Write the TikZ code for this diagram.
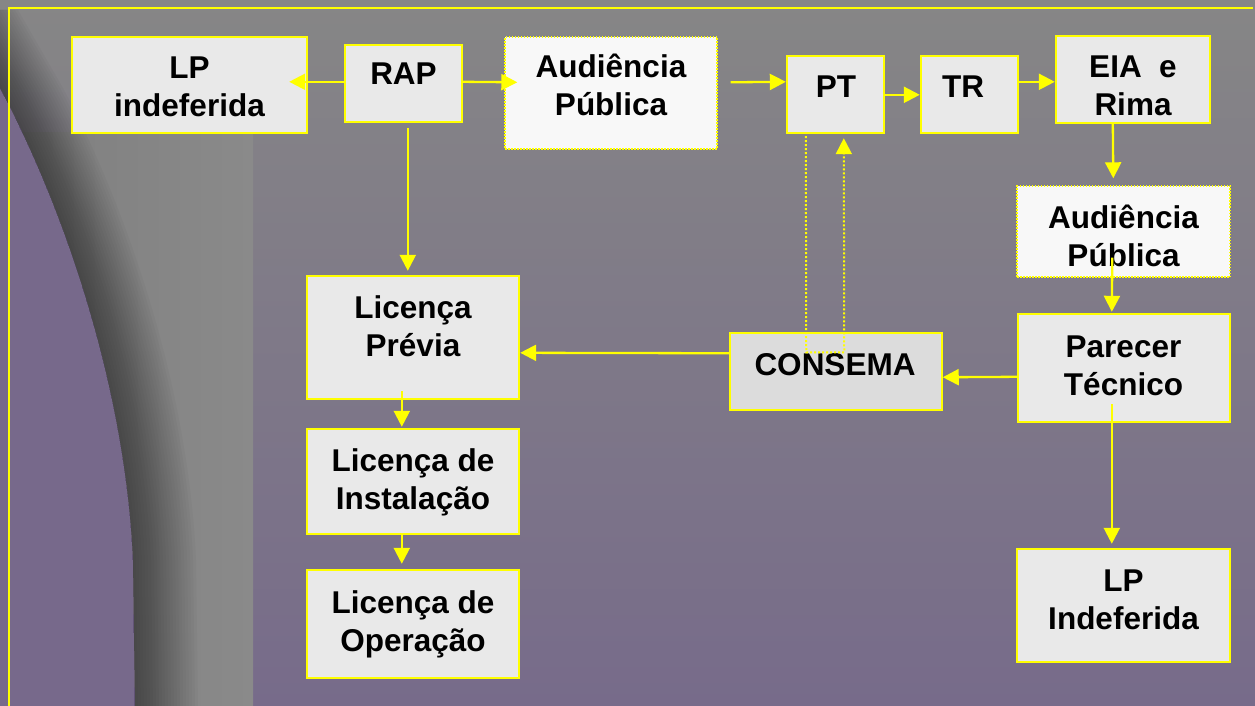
\documentclass[tikz,border=0pt]{standalone}
\usepackage{fontspec}
\setmainfont{Liberation Sans}
\usetikzlibrary{arrows.meta,calc}
\definecolor{yel}{HTML}{FFFF00}
\definecolor{boxfill}{HTML}{E9E9E9}
\definecolor{consfill}{HTML}{DCDCDC}
\definecolor{audfill}{HTML}{F8F8F8}
\definecolor{bgtop}{HTML}{868686}
\definecolor{bgbot}{HTML}{776B8A}
\definecolor{purp}{HTML}{77698B}
\definecolor{bandL}{HTML}{7E7E7E}
\definecolor{bandM}{HTML}{868686}
\definecolor{bandR}{HTML}{8A8A8A}
\newcommand\twol[2]{\begin{tabular}[t]{@{}c@{}}#1\\#2\end{tabular}}
\tikzset{
  box/.style={draw=yel, line width=2.4pt, fill=boxfill, inner sep=0pt, rectangle},
  cbox/.style={draw=yel, line width=1.5pt, fill=consfill, inner sep=0pt, rectangle},
  abox/.style={draw=yel, line width=1.4pt, dash pattern=on 1.5pt off 1.5pt, fill=audfill, inner sep=0pt, rectangle},
  txt/.style={anchor=base, inner sep=0pt, font=\fontsize{31.5}{38}\selectfont\bfseries},
  arr/.style={draw=yel, line width=2.3pt, -{Triangle[length=16pt,width=16pt]}},
  darr/.style={draw=yel, line width=2pt, dash pattern=on 2pt off 2pt, -{Triangle[length=16pt,width=16pt]}},
}
\begin{document}
\begin{tikzpicture}[x=1pt,y=-1pt]
\useasboundingbox (0,0) rectangle (1255,706);
% background
\fill[top color=bgtop, bottom color=bgbot] (0,0) rectangle (1255,706);
\fill[left color=bandL, middle color=bandM, right color=bandR] (0,133) rectangle (253,706);
\fill[purp] (0,88) .. controls (60,200) and (125,380) .. (133,560) -- (135,706) -- (0,706) -- cycle;
\foreach \s in {3,6,...,63} {
  \fill[black, opacity=0.022] (-45,10) -- (0,88) .. controls (60,200) and (125,380) .. (133,560) -- (135,706)
    -- (135+\s,706) -- (133+\s,560) .. controls (125+\s,380) and (60+\s,200) .. (\s,88) -- (-45+\s,10) -- cycle;
}
\draw[yel, line width=1.6pt] (1253,8) -- (9,8) -- (9,706);
% boxes
\node[box, minimum width=235pt, minimum height=96pt] (lpind) at (189.5,85) {};
\node[box, minimum width=117pt, minimum height=77pt] (rap) at (403.5,83.5) {};
\node[abox, minimum width=212pt, minimum height=112pt] (aud1) at (611,93) {};
\node[box, minimum width=97pt, minimum height=77pt] (pt) at (835.5,94.5) {};
\node[box, minimum width=97pt, minimum height=77pt] (tr) at (969.5,94.5) {};
\node[box, minimum width=154pt, minimum height=87pt] (eia) at (1133,79.5) {};
\node[abox, minimum width=213pt, minimum height=91pt] (aud2) at (1123.5,231.5) {};
\node[box, minimum width=212pt, minimum height=108pt] (parecer) at (1124,368) {};
\node[cbox, minimum width=212pt, minimum height=77pt] (consema) at (836,371.5) {};
\node[box, minimum width=212pt, minimum height=123pt] (lprev) at (413,337.5) {};
\node[box, minimum width=212pt, minimum height=105pt] (linst) at (413,481.5) {};
\node[box, minimum width=212pt, minimum height=108pt] (lop) at (413,624) {};
\node[box, minimum width=213pt, minimum height=113pt] (lpind2) at (1123.5,605.5) {};
% texts
\node[txt] (t-lpind) at (189.5,79) {\twol{LP}{indeferida}};
\node[txt] (t-rap) at (403.5,85) {RAP};
\node[txt] (t-aud1) at (611,78) {\twol{Audiência}{Pública}};
\node[txt] (t-pt) at (836,98) {PT};
\node[txt] (t-tr) at (963,98) {TR};
\node[txt] (t-eia) at (1133,78) {\twol{EIA\ \ e}{Rima}};
\node[txt] (t-aud2) at (1123.5,228) {\twol{Audiência}{Pública}};
\node[txt] (t-parecer) at (1123.5,357) {\twol{Parecer}{Técnico}};
\node[txt] (t-consema) at (835,375) {CONSEMA};
\node[txt] (t-lprev) at (413,318) {\twol{Licença}{Prévia}};
\node[txt] (t-linst) at (413,471) {\twol{Licença de}{Instalação}};
\node[txt] (t-lop) at (413,613) {\twol{Licença de}{Operação}};
\node[txt] (t-lpind2) at (1123.5,591) {\twol{LP}{Indeferida}};
% connectors
\draw[arr] ($(rap.north west)+(0,38)$) -- ($(lpind.north east)+(-19,46)$);
\draw[arr] ($(rap.north east)+(0,38)$) -- ($(aud1.north west)+(13,46)$);
\draw[arr] ($(aud1.north east)+(13,46)$) -- ($(pt.north west)+(0,27)$);
\draw[arr] ($(pt.north east)+(0,40)$) -- ($(tr.north west)+(0,40)$);
\draw[arr] ($(tr.north east)+(0,27)$) -- ($(eia.north west)+(0,47)$);
\draw[arr] ($(eia.south west)+(58,0)$) -- ($(aud2.north west)+(97,-7)$);
\draw[arr] ($(aud2.south west)+(96,-20)$) -- ($(parecer.north west)+(95,-1)$);
\draw[arr] ($(parecer.north west)+(0,64)$) -- ($(consema.north east)+(0,45)$);
\draw[arr] ($(consema.north west)+(0,21)$) -- ($(lprev.north east)+(0,78)$);
\draw[arr] ($(rap.south west)+(64,5)$) -- ($(lprev.north west)+(102,-4)$);
\draw[arr] ($(lprev.south west)+(96,-9)$) -- ($(linst.north west)+(96,-1)$);
\draw[arr] ($(linst.south west)+(96,0)$) -- ($(lop.north west)+(96,-5)$);
\draw[arr] ($(parecer.south west)+(95,-19)$) -- ($(lpind2.north west)+(96,-4)$);
\draw[darr] ($(pt.south west)+(20,2)$) -- ($(consema.north west)+(77,20)$) -- ($(consema.north west)+(115,20)$) -- ($(pt.south west)+(58,4)$);
\end{tikzpicture}
\end{document}
